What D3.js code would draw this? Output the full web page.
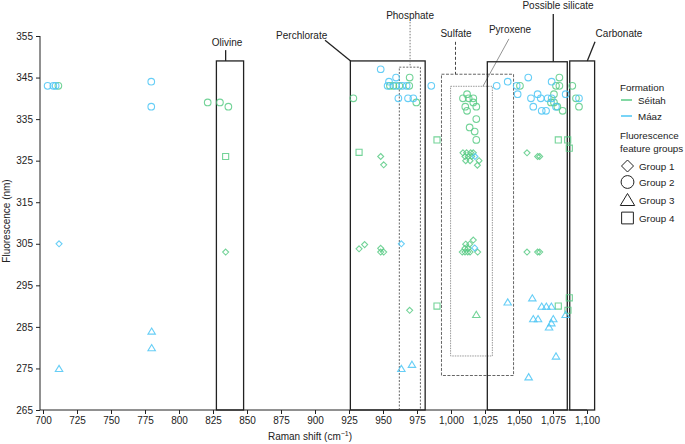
<!DOCTYPE html>
<html><head><meta charset="utf-8">
<script src="https://cdn.jsdelivr.net/npm/d3@7"></script>
<style>
html,body{margin:0;padding:0;background:#fff;}
svg{display:block;font-family:"Liberation Sans",Arial,Helvetica,sans-serif;}
</style></head>
<body>
<svg id="chart" width="685" height="444"></svg>
<script>
// ---- data ----
const xTicks = [700,725,750,775,800,825,850,875,900,925,950,975,1000,1025,1050,1075,1100];
const yTicks = [265,275,285,295,305,315,325,335,345,355];
const groupNames = ["Group 1","Group 2","Group 3","Group 4"];
const formations = ["Séitah","Máaz"];

// [Raman shift, fluorescence, group]
const seitahPoints = [
  [711.3,343,2],[821.1,339,2],[830.1,339,2],[836.3,338,2],
  [928.2,340,2],[969.6,345,2],[955.1,343,2],[957.6,343,2],[962.0,343,2],[969.3,343,2],[974.5,339,2],
  [1011.8,341,2],[1008.8,340,2],[1013.0,340,2],[1016.4,340,2],[1010.5,338,2],[1011.8,337,2],[1016.4,339,2],
  [1018.6,338,2],[1018.6,335,2],[1013.7,333,2],[1017.4,332,2],[1018.6,330,2],
  [1050.7,343,2],[1079.7,345,2],[1077.2,343,2],[1079.7,343,2],[1075.7,341,2],[1073.5,339,2],[1075.7,339,2],
  [1078.2,338,2],[1082.1,337,2],[1089.2,343,2],[1091.9,340,2],[1094.1,338,2],
  [834.3,303,1],[948.3,326,1],[950.5,324,1],
  [932.4,303.8,1],[936.5,304.8,1],[948.3,303.9,1],[948.3,303,1],[950.5,303,1],[969.6,289,1],
  [1008.8,326.9,1],[1011.5,326.9,1],[1014.5,326.9,1],[1016.4,326.9,1],[1010.3,326,1],[1012.7,326,1],[1015.2,326,1],
  [1010.8,325,1],[1014,325,1],[1020.6,325,1],[1019.4,323.9,1],
  [1016.4,305.9,1],[1010.8,304.9,1],[1013.7,304.9,1],[1008.3,303,1],[1010.3,303,1],[1012.3,303,1],[1014,303,1],
  [1010.3,303.9,1],[1012.7,303.9,1],[1019.6,303,1],
  [1055.9,326.9,1],[1063.7,326,1],[1065.2,326,1],[1055.9,303,1],[1063.7,303,1],[1065.2,303,1],
  [1018.6,288,3],
  [834.3,326,4],[932.4,327,4],[989.7,330,4],[989.7,290,4],[1078.9,330,4],[1085.8,330,4],[1087,328,4],
  [1078.9,290,4],[1087,292,4],[1086,289,4]
];
const maazPoints = [
  [703.4,343,2],[707.6,343,2],[709.3,343,2],[779.6,344,2],[779.6,338,2],
  [948.3,347,2],[959.6,345,2],[954.4,344,2],[953.4,343,2],[959.6,343,2],[964.2,343,2],[967.4,343,2],[985.5,343,2],
  [961.3,340,2],[968.4,340,2],[972.3,340,2],
  [1033.6,343,2],[1041.7,344,2],[1048.3,343,2],[1049,341,2],[1056.8,345,2],[1063.7,341,2],[1058.8,340,2],[1066,340,2],
  [1071.1,340,2],[1074,340,2],[1060.5,338,2],[1066.7,337,2],[1069.9,337,2],[1074,344,2],[1084.3,341,2],[1077.2,338,2],[1094.1,340,2],
  [711.8,305,1],[963.5,305,1],[1017.6,326,1],[1017.4,304,1],
  [779.9,284,3],[779.9,280,3],[711.8,275,3],[1041.7,291,3],[1059.8,292,3],[1066.7,290,3],[1070.1,290,3],[1073.8,290,3],
  [1084.3,288,3],[1060.5,287,3],[1064,287,3],[1075.2,287,3],[1073.8,286,3],[1072.1,285,3],[1077.2,278,3],
  [963.5,275,3],[971.3,276,3],[1057.1,273,3]
];

// mineral regions: name, x-range, y-range, style, label anchor, leader line
const regionNames = ["Olivine","Perchlorate","Phosphate","Sulfate","Pyroxene","Possible silicate","Carbonate"];
const regionX = [[827.5,847.5],[926,981],[962,977.5],[993,1046],[999.7,1030.4],[1026.7,1085.5],[1087.3,1105.6]];
const regionY = [[265,349],[265,349],[265,347.5],[273.3,345.8],[278,342.9],[265,348.8],[265,349]];
const regionStyle = ["solid","solid","dotted","dashed","light","solid","solid"];
const labelPos = [[835.3,352.6],[890.2,354.3],[969.9,359.1],[1003.7,354.8],[1043.4,355.7],[1078.7,361.5],[1123.5,354.8]];
const leaderFrom = [[834.3,351.6],[907.4,354.0],[969.9,358.4],[1003.3,353.6],[1042.6,354.3],[1075.2,360.3],[1105.9,353.6]];
const leaderTo = [[834.3,349],[926.2,349],[969.9,347.5],[1003.3,345.8],[1023.5,342.9],[1075.2,348.8],[1100.2,349]];

// ---- drawing ----
const svg = d3.select("#chart");
const x = d3.scaleLinear().domain([700,1100]).range([43,587]);
const y = d3.scaleLinear().domain([265,355]).range([410,36]);
const colors = {"Séitah":"#5acb86","Máaz":"#4cc6f4"};

function shapePath(g, s) {
  if (g === 1) return `M0,${-s}L${s},0L0,${s}L${-s},0Z`;
  if (g === 2) { const r = s*1.07; return `M${r},0A${r},${r} 0 1,1 ${-r},0A${r},${r} 0 1,1 ${r},0Z`; }
  if (g === 3) { const w = s*1.2, h = s; return `M0,${-h}L${w},${h}L${-w},${h}Z`; }
  const q = s*0.98; return `M${-q},${-q}H${q}V${q}H${-q}Z`;
}

// regions
const rg = svg.append("g");
regionNames.forEach((n,i) => {
  const st = regionStyle[i];
  const rect = rg.append("rect")
    .attr("x", x(regionX[i][0])).attr("y", y(regionY[i][1]))
    .attr("width", x(regionX[i][1]) - x(regionX[i][0]))
    .attr("height", y(regionY[i][0]) - y(regionY[i][1]))
    .attr("fill","none");
  const line = rg.append("line")
    .attr("x1", x(leaderFrom[i][0])).attr("y1", y(leaderFrom[i][1]))
    .attr("x2", x(leaderTo[i][0])).attr("y2", y(leaderTo[i][1]));
  if (st === "solid") { rect.attr("stroke","#222").attr("stroke-width",1.3); line.attr("stroke","#222").attr("stroke-width",1.3); }
  if (st === "dotted") { rect.attr("stroke","#666").attr("stroke-width",1).attr("stroke-dasharray","2,1.5"); line.attr("stroke","#777").attr("stroke-width",1).attr("stroke-dasharray","1.5,1.5"); }
  if (st === "dashed") { rect.attr("stroke","#666").attr("stroke-width",1).attr("stroke-dasharray","3,1.5"); line.attr("stroke","#444").attr("stroke-width",1).attr("stroke-dasharray","3,2"); }
  if (st === "light") { rect.attr("stroke","#999").attr("stroke-width",1).attr("stroke-dasharray","1.5,1"); line.attr("stroke","#777").attr("stroke-width",0.8); }
  rg.append("text").attr("x", x(labelPos[i][0])).attr("y", y(labelPos[i][1]))
    .attr("text-anchor","middle").attr("font-size",10).attr("fill","#222").text(n);
});

// points
const pg = svg.append("g");
[[seitahPoints,"Séitah"],[maazPoints,"Máaz"]].forEach(([pts,f]) => {
  pg.selectAll(null).data(pts).enter().append("path")
    .attr("transform", d => `translate(${x(d[0])},${y(d[1])})`)
    .attr("d", d => shapePath(d[2], d[2]===1 ? 3 : 3.1))
    .attr("fill","none").attr("stroke", colors[f]).attr("stroke-width",1.1).attr("stroke-opacity",0.85);
});

// axes
const xAxis = d3.axisBottom(x).tickValues(xTicks).tickSize(4).tickSizeOuter(0)
  .tickFormat(d => d3.format(",")(d));
const gx = svg.append("g").attr("transform","translate(0,410)").call(xAxis);
gx.select(".domain").remove();
const yAxis = d3.axisLeft(y).tickValues(yTicks).tickSize(4).tickSizeOuter(0);
const gy = svg.append("g").attr("transform","translate(40,0)").call(yAxis);
gy.select(".domain").remove();
[gx,gy].forEach(g => {
  g.selectAll("text").attr("font-size",10).attr("fill","#222").attr("font-family","Liberation Sans, Arial, sans-serif");
  g.selectAll(".tick line").attr("stroke","#222");
});
svg.append("line").attr("x1",40).attr("x2",x(1100)).attr("y1",410).attr("y2",410).attr("stroke","#222");
svg.append("line").attr("x1",40).attr("x2",40).attr("y1",y(355)).attr("y2",410).attr("stroke","#222");

svg.append("text").attr("transform","translate(10,221) rotate(-90)").attr("text-anchor","middle")
  .attr("font-size",10).attr("fill","#222").text("Fluorescence (nm)");
const xl = svg.append("text").attr("x",310).attr("y",440).attr("text-anchor","middle").attr("font-size",10).attr("fill","#222");
xl.append("tspan").text("Raman shift (cm");
xl.append("tspan").attr("font-size",7).attr("dy",-4).text("−1");
xl.append("tspan").attr("dy",4).text(")");

// legend
const lg = svg.append("g").attr("font-size",9.8).attr("fill","#222");
lg.append("text").attr("x",620).attr("y",91).text("Formation");
formations.forEach((f,i) => {
  const yy = 100 + i*16;
  lg.append("line").attr("x1",621).attr("x2",632).attr("y1",yy).attr("y2",yy).attr("stroke",colors[f]).attr("stroke-width",1.5);
  lg.append("text").attr("x",638).attr("y",yy+4).text(f);
});
lg.append("text").attr("x",620).attr("y",139).text("Fluorescence");
lg.append("text").attr("x",620).attr("y",152).text("feature groups");
const legY = [166,182,199.5,218];
groupNames.forEach((gname,i) => {
  lg.append("path").attr("transform",`translate(627.5,${legY[i]})`)
    .attr("d", shapePath(i+1, 6)).attr("fill","none").attr("stroke","#222").attr("stroke-width",1);
  lg.append("text").attr("x",639).attr("y",legY[i]+4).text(gname);
});
</script>
</body></html>
